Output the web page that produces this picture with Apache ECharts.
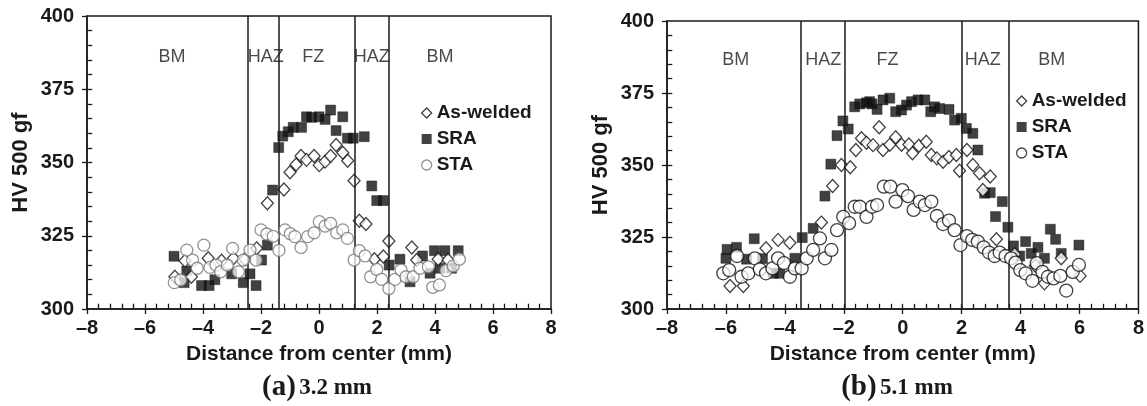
<!DOCTYPE html>
<html>
<head>
<meta charset="utf-8">
<script src="https://cdn.jsdelivr.net/npm/echarts@6/dist/echarts.min.js"></script>
<style>
html,body{margin:0;padding:0;background:#fff;}
#c{width:1147px;height:406px;}
</style>
</head>
<body>
<div id="c"></div>
<script>
// ---------- data ----------
const xTicks = [-8, -6, -4, -2, 0, 2, 4, 6, 8];
const yTicks = [300, 325, 350, 375, 400];
const seriesNames = ['As-welded', 'SRA', 'STA'];
const zoneNames = ['BM', 'HAZ', 'FZ', 'HAZ', 'BM'];

// panel (a) 3.2 mm
const a_zoneX = [-5.07, -1.84, -0.2, 1.82, 4.17];
const a_zoneY = 386;
const a_bounds = [-2.44, -1.38, 1.22, 2.40];
const a_asWelded = [[-4.97,311],[-4.62,316.5],[-4.4,311],[-3.82,317.3],[-3.36,316.5],[-2.95,317.3],[-2.55,317],[-2.15,320.7],[-1.78,336.1],[-1.21,340.8],[-1.0,346.7],[-0.79,349.3],[-0.62,352.2],[-0.43,350.9],[-0.17,352.2],[0.01,349.1],[0.21,350.3],[0.40,352.2],[0.59,356],[0.82,353.3],[0.99,350.6],[1.21,343.8],[1.39,330.1],[1.62,329],[1.91,317],[2.22,317.9],[2.41,323.2],[3.20,321],[3.37,316.7],[4.11,317],[4.45,316.7]];
const a_SRA = [[-5.0,318],[-4.65,309],[-4.56,313],[-4.05,308],[-3.79,308],[-3.59,310],[-3.01,312],[-2.61,309],[-2.38,312],[-2.17,308],[-1.98,316.7],[-1.78,321.8],[-1.60,340.6],[-1.39,355.1],[-1.25,359],[-1.06,360.5],[-0.89,362],[-0.60,362],[-0.43,365.6],[-0.25,365.4],[0.0,365.6],[0.21,364.7],[0.40,367.9],[0.59,360.9],[0.82,365.6],[0.98,358.3],[1.18,358.3],[1.56,358.8],[1.82,342],[1.99,337],[2.22,337],[2.42,315],[2.79,317],[3.14,309.3],[3.57,318.1],[3.83,312.2],[3.98,319.9],[4.17,313.9],[4.34,319.9],[4.57,313.9],[4.8,319.9]];
const a_STA = [[-4.99,309],[-4.77,309.9],[-4.56,320.1],[-4.36,316.7],[-4.2,313.9],[-3.97,321.8],[-3.76,314.2],[-3.55,315],[-3.39,312.7],[-3.16,315],[-2.98,320.7],[-2.78,312.7],[-2.61,316.7],[-2.38,320.1],[-2.17,316.7],[-2.0,327],[-1.80,325.6],[-1.58,324.8],[-1.38,320],[-1.17,327],[-0.99,325.7],[-0.83,324.7],[-0.62,321],[-0.39,324.7],[-0.17,326],[0.01,329.8],[0.21,328.3],[0.40,329.2],[0.61,326],[0.82,327],[0.98,324.1],[1.21,316.7],[1.39,319.9],[1.59,318.1],[1.78,311],[1.99,313.5],[2.16,310.1],[2.41,307],[2.62,310.1],[2.83,313.3],[3.0,311],[3.25,311],[3.48,313.9],[3.77,314.4],[3.92,307.4],[4.15,308.2],[4.38,313.1],[4.63,314.7],[4.84,317]];

// panel (b) 5.1 mm
const b_zoneX = [-5.67, -2.70, -0.52, 2.72, 5.06];
const b_zoneY = 386.5;
const b_bounds = [-3.46, -1.96, 2.02, 3.6];
const b_asWelded = [[-5.86,308],[-5.41,308],[-4.64,321.1],[-4.23,324],[-3.83,323],[-2.76,330],[-2.38,342.7],[-2.08,350],[-1.78,349.2],[-1.59,355.2],[-1.40,359.3],[-1.23,357.7],[-1.01,356.9],[-0.80,363.1],[-0.67,355.2],[-0.44,357],[-0.24,359.6],[-0.04,357],[0.21,357.1],[0.33,354.1],[0.55,356.7],[0.80,358.1],[0.97,353.5],[1.16,352.3],[1.37,351.1],[1.57,352.8],[1.82,353.5],[1.93,348],[2.18,355.2],[2.38,350],[2.61,347.1],[2.72,341.3],[2.97,346],[3.18,324.2],[3.8,319],[4.5,315],[4.81,308.9],[5.38,317.6],[6.02,311.5]];
const b_SRA = [[-6.0,317.6],[-5.96,320.7],[-5.64,321.4],[-5.30,317.3],[-5.04,324.4],[-4.76,317.5],[-4.40,312.4],[-4.17,312.4],[-3.66,317.6],[-3.41,324.8],[-3.04,328],[-2.64,339.2],[-2.44,350.3],[-2.23,360.2],[-2.03,365.3],[-1.85,362.5],[-1.63,370.2],[-1.46,371.2],[-1.23,371.6],[-1.12,372],[-1.04,371.2],[-0.87,369.3],[-0.67,372.6],[-0.44,373.2],[-0.24,368.5],[-0.04,369.1],[0.13,370.8],[0.30,372],[0.52,372.6],[0.75,372.6],[0.95,368.5],[1.08,370.2],[1.25,369.6],[1.57,369.3],[1.76,365.6],[1.99,366.2],[2.16,362.7],[2.38,361],[2.55,355.2],[2.78,340.2],[2.97,340.4],[3.15,332.1],[3.38,337.3],[3.57,328.4],[3.76,321.9],[3.97,318.4],[4.17,323.4],[4.36,319.3],[4.59,321.4],[4.81,317.6],[5.01,327.7],[5.19,324.2],[5.38,319.3],[5.98,322.2]];
const b_STA = [[-6.09,312.4],[-5.89,313.5],[-5.62,318.4],[-5.47,311.2],[-5.24,312.4],[-5.02,317.6],[-4.85,313.8],[-4.64,312.4],[-4.42,314.1],[-4.23,317.6],[-4.03,315.9],[-3.83,311.2],[-3.66,314.1],[-3.43,314.1],[-3.26,317.6],[-3.04,320.5],[-2.81,324.5],[-2.64,317.6],[-2.42,320.5],[-2.23,327.4],[-2.02,332],[-1.82,329.8],[-1.63,335.5],[-1.46,335.5],[-1.23,332],[-1.04,335.5],[-0.87,336.1],[-0.64,342.5],[-0.42,342.5],[-0.24,337.3],[-0.01,341.3],[0.18,339.2],[0.37,334.4],[0.58,337.3],[0.75,336.1],[0.97,337.3],[1.16,332.3],[1.37,329.5],[1.57,330.7],[1.76,327.4],[1.96,322.2],[2.18,325.3],[2.36,324],[2.55,323.4],[2.75,321.4],[2.93,319.6],[3.12,318.4],[3.29,319.6],[3.49,318.4],[3.68,317.6],[3.83,316.1],[3.99,313.5],[4.17,312.4],[4.40,309.8],[4.55,315.9],[4.74,312.9],[4.93,311.2],[5.12,310.6],[5.35,311.5],[5.55,306.4],[5.77,312.9],[5.98,315.3]];

const captions = [['(a)', '3.2 mm'], ['(b)', '5.1 mm']];

// ---------- styling ----------
const SANS = '"Liberation Sans", Arial, sans-serif';
const SERIF = '"Liberation Serif", "Times New Roman", serif';
const INK = '#1a1a1a';
const X_MAJOR = 2, X_MINOR = 0.4, Y_MAJOR = 25, Y_MINOR = 5;
const X_MIN = xTicks[0], X_MAX = xTicks[xTicks.length - 1];
const Y_MIN = yTicks[0], Y_MAX = yTicks[yTicks.length - 1];
const IN_TICK_Y = 1.8;   // inward tick length along x axis, in HV units (~5 px)
const IN_TICK_X = 0.18;  // inward tick length along y axis, in mm units (~5 px)

// inward tick positions (axis furniture, derived from the tick step)
const xInTicks = [];
for (let i = 1; i < Math.round((X_MAX - X_MIN) / X_MINOR); i++) xInTicks.push(+(X_MIN + i * X_MINOR).toFixed(2));
const yInTicks = [];
for (let i = 1; i < Math.round((Y_MAX - Y_MIN) / Y_MINOR); i++) yInTicks.push(Y_MIN + i * Y_MINOR);

function xAxisCfg(gi) {
  return {
    gridIndex: gi, type: 'value', position: 'bottom', min: X_MIN, max: X_MAX, interval: X_MAJOR,
    axisLine: { show: true, onZero: false, lineStyle: { color: INK, width: 1.5 } },
    axisTick: { show: true, length: 5, lineStyle: { color: INK, width: 1.3 } },
    splitLine: { show: false },
    axisLabel: {
      formatter: v => (v < 0 ? '\u2013' + Math.abs(v) : String(v)),
      fontFamily: SANS, fontWeight: 'bold', fontSize: 20, color: INK, margin: 9
    },
    name: 'Distance from center (mm)', nameLocation: 'middle', nameGap: 35,
    nameTextStyle: { fontFamily: SANS, fontWeight: 'bold', fontSize: 21, color: INK }
  };
}
function yAxisCfg(gi) {
  return {
    gridIndex: gi, type: 'value', position: 'left', min: Y_MIN, max: Y_MAX, interval: Y_MAJOR,
    axisLine: { show: true, onZero: false, lineStyle: { color: INK, width: 1.5 } },
    axisTick: { show: true, length: 5, lineStyle: { color: INK, width: 1.3 } },
    splitLine: { show: false },
    axisLabel: { fontFamily: SANS, fontWeight: 'bold', fontSize: 20, color: INK, margin: 13 },
    name: 'HV 500 gf', nameLocation: 'middle', nameGap: 55,
    nameTextStyle: { fontFamily: SANS, fontWeight: 'bold', fontSize: 22, color: INK }
  };
}

function panelSeries(gi, asW, sra, sta, bounds, zx, zy, staColor, staSize) {
  const tickSegs = xInTicks.map(v => [{ coord: [v, Y_MIN] }, { coord: [v, Y_MIN + IN_TICK_Y] }])
    .concat(yInTicks.map(v => [{ coord: [X_MIN, v] }, { coord: [X_MIN + IN_TICK_X, v] }]));
  return [
    {
      type: 'scatter', name: 'SRA', xAxisIndex: gi, yAxisIndex: gi, data: sra,
      symbol: 'rect', symbolSize: 10, itemStyle: { color: '#111', borderColor: '#111', borderWidth: 0.5 },
      markLine: {
        silent: true, symbol: ['none', 'none'], label: { show: false },
        lineStyle: { color: INK, width: 1.5, type: 'solid' },
        data: bounds.map(b => ({ xAxis: b }))
      },
      z: 3
    },
    {
      type: 'scatter', name: 'As-welded', xAxisIndex: gi, yAxisIndex: gi, data: asW,
      symbol: 'diamond', symbolSize: [12, 13], itemStyle: { color: '#fff', borderColor: '#111', borderWidth: 1.3 }, z: 4
    },
    {
      type: 'scatter', name: 'STA', xAxisIndex: gi, yAxisIndex: gi, data: sta,
      symbol: 'circle', symbolSize: staSize, itemStyle: { color: 'rgba(255,255,255,0.9)', borderColor: staColor, borderWidth: 1.3 }, z: 5
    },
    {
      type: 'scatter', name: 'zones', xAxisIndex: gi, yAxisIndex: gi, silent: true,
      symbolSize: 0, z: 6,
      data: zoneNames.map((n, i) => ({ name: n, value: [zx[i], zy] })),
      label: { show: true, position: 'inside', formatter: p => p.name, fontFamily: SANS, fontSize: 18, color: INK }
    },
    {
      // inward minor ticks along both axes, drawn as short markLine segments
      type: 'scatter', name: 'in-ticks', xAxisIndex: gi, yAxisIndex: gi, silent: true,
      data: [], symbolSize: 0, z: 7,
      markLine: {
        silent: true, symbol: ['none', 'none'], label: { show: false },
        lineStyle: { color: INK, width: 1.3, type: 'solid' },
        data: tickSegs
      }
    }
  ];
}

function legendCfg(left, top, gap, staColor) {
  return {
    orient: 'vertical', left: left, top: top, itemWidth: 10, itemHeight: 10, itemGap: gap, itemTextGap: 6,
    selectedMode: false,
    textStyle: { fontFamily: SANS, fontWeight: 'bold', fontSize: 19, color: INK, lineHeight: 20 },
    data: [
      { name: seriesNames[0], icon: 'diamond', itemStyle: { color: '#fff', borderColor: '#111', borderWidth: 1.3 } },
      { name: seriesNames[1], icon: 'rect', itemStyle: { color: '#111', borderColor: '#111', borderWidth: 0 } },
      { name: seriesNames[2], icon: 'circle', itemStyle: { color: '#fff', borderColor: staColor, borderWidth: 1.3 } }
    ]
  };
}

function captionText(cx, cy, cap) {
  return {
    type: 'text', x: cx, y: cy,
    style: {
      text: '{a|' + cap[0] + '} {b|' + cap[1] + '}',
      align: 'center', verticalAlign: 'middle', textAlign: 'center', textVerticalAlign: 'middle',
      rich: {
        a: { fontFamily: SERIF, fontWeight: 'bold', fontSize: 29, fill: INK, color: INK },
        b: { fontFamily: SERIF, fontWeight: 'bold', fontSize: 23, fill: INK, color: INK }
      }
    }
  };
}

const chart = echarts.init(document.getElementById('c'), null, { renderer: 'canvas' });
chart.setOption({
  backgroundColor: '#fff',
  animation: false,
  grid: [
    { left: 87, top: 16, width: 464, height: 293, show: true, borderColor: INK, borderWidth: 1.5, backgroundColor: 'transparent' },
    { left: 667, top: 21, width: 472, height: 288, show: true, borderColor: INK, borderWidth: 1.5, backgroundColor: 'transparent' }
  ],
  xAxis: [xAxisCfg(0), xAxisCfg(1)],
  yAxis: [yAxisCfg(0), yAxisCfg(1)],
  legend: [legendCfg(416, 98, 6, '#777'), legendCfg(1011, 86, 6, '#111')],
  series: [].concat(
    panelSeries(0, a_asWelded, a_SRA, a_STA, a_bounds, a_zoneX, a_zoneY, '#777', 12),
    panelSeries(1, b_asWelded, b_SRA, b_STA, b_bounds, b_zoneX, b_zoneY, '#111', 13)
  ),
  graphic: [captionText(317, 388, captions[0]), captionText(897, 388, captions[1])]
});
</script>
</body>
</html>
